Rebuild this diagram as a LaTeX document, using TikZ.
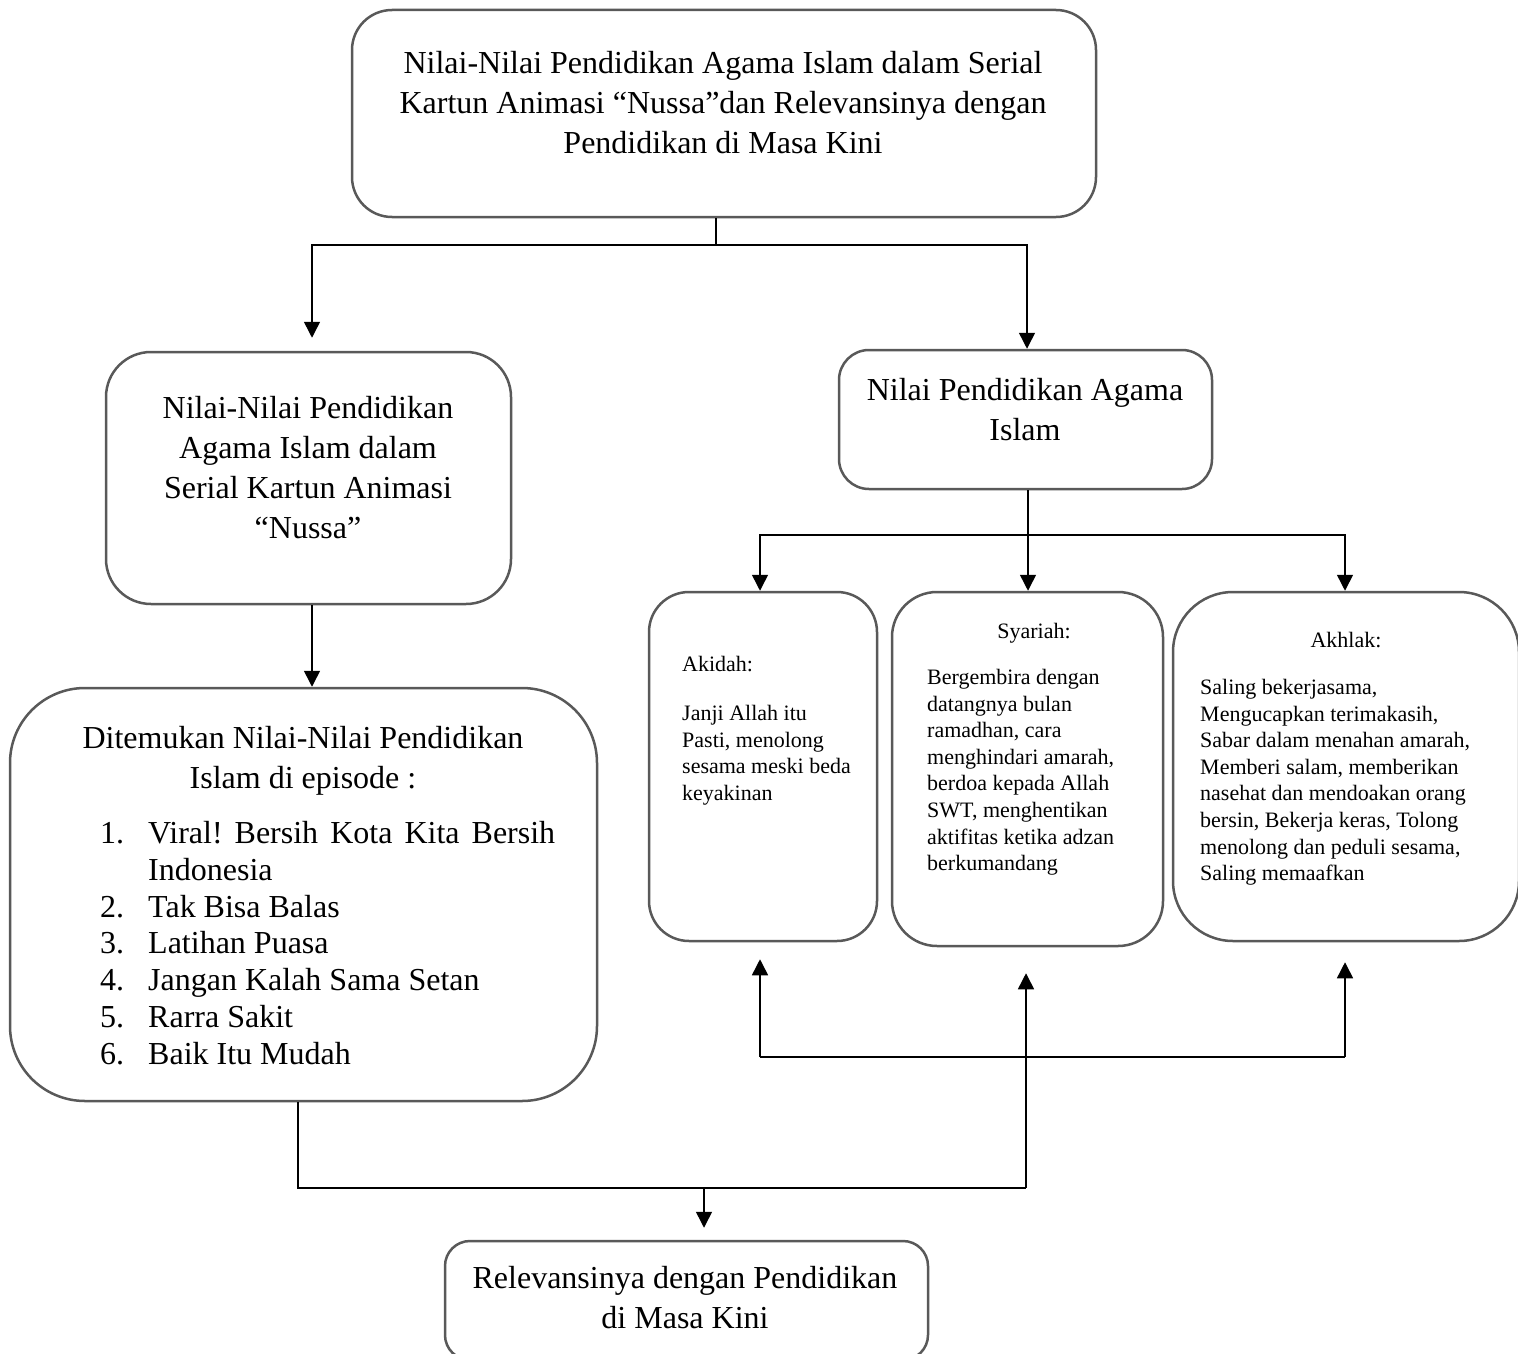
\documentclass[tikz,border=0pt]{standalone}
\usepackage{fontspec}
\setmainfont{Liberation Serif}
\frenchspacing
\usetikzlibrary{arrows.meta,positioning}
\definecolor{edgegray}{HTML}{595959}
\tikzset{
  box/.style={draw=edgegray, line width=2.5pt, rounded corners=#1, inner sep=0pt},
  box/.default=40pt,
  big/.style={font=\fontsize{32}{40}\selectfont, align=center, inner sep=0pt, anchor=north},
  small/.style={font=\fontsize{22}{26.6}\selectfont, align=left, inner sep=0pt, anchor=north west},
  link/.style={line width=1.5pt},
  arr/.style={link, -{Triangle[length=16pt,width=16pt]}},
}
\begin{document}
\begin{tikzpicture}[x=1pt,y=-1pt]
	\useasboundingbox (0,0) rectangle (1518,1354);
	\clip (0,0) rectangle (1518,1354);
	% frames
	\node[box, minimum width=744pt, minimum height=207pt] (judul) at (724,113.5) {};
	\node[box=45pt, minimum width=405pt, minimum height=252pt] (nussa) at (308.5,478) {};
	\node[box=30pt, minimum width=373pt, minimum height=139pt] (pai) at (1025.5,419.5) {};
	\node[box=75pt, minimum width=587pt, minimum height=413pt] (episode) at (303.5,894.5) {};
	\node[box, minimum width=228pt, minimum height=349pt] (akidah) at (763,766.5) {};
	\node[box=45pt, minimum width=271pt, minimum height=354pt] (syariah) at (1027.5,769) {};
	\node[box=60pt, minimum width=346pt, minimum height=349pt] (akhlak) at (1346,766.5) {};
	\node[box=25pt, minimum width=483pt, minimum height=119pt] (relevansi) at (686.5,1300.5) {};
	% texts
	\node[big] (judulT) at (723,51) {Nilai-Nilai Pendidikan Agama Islam dalam Serial\\
		Kartun Animasi “Nussa”dan Relevansinya dengan\\ Pendidikan di Masa Kini};
	\node[big] (nussaT) at (308,396) {Nilai-Nilai Pendidikan\\ Agama Islam dalam\\
		Serial Kartun Animasi\\ “Nussa”};
	\node[big] (paiT) at (1025,378) {Nilai Pendidikan Agama\\ Islam};
	\node[big] (episodeT) at (303,726) {Ditemukan Nilai-Nilai Pendidikan\\ Islam di episode :};
	\node[big, anchor=north west, align=left, font=\fontsize{32}{36.8}\selectfont] (daftar) at (100,821) {%
		\makebox[48pt][l]{1.}\makebox[407pt][s]{Viral! Bersih Kota Kita Bersih}\\
		\hspace*{48pt}Indonesia\\
		\makebox[48pt][l]{2.}Tak Bisa Balas\\
		\makebox[48pt][l]{3.}Latihan Puasa\\
		\makebox[48pt][l]{4.}Jangan Kalah Sama Setan\\
		\makebox[48pt][l]{5.}Rarra Sakit\\
		\makebox[48pt][l]{6.}Baik Itu Mudah};
	\node[big] (relevansiT) at (685,1266) {Relevansinya dengan Pendidikan\\ di Masa Kini};
	\node[small] (akidahT) at (682,656) {Akidah:\\[22.4pt] Janji Allah itu\\ Pasti, menolong\\
		sesama meski beda\\ keyakinan};
	\node[small, anchor=north] (syariahJ) at (1034,623) {Syariah:};
	\node[small] (syariahT) at (927,669) {Bergembira dengan\\ datangnya bulan\\ ramadhan, cara\\
		menghindari amarah,\\ berdoa kepada Allah\\ SWT, menghentikan\\ aktifitas ketika adzan\\ berkumandang};
	\node[small, anchor=north] (akhlakJ) at (1346,632) {Akhlak:};
	\node[small] (akhlakT) at (1200,679) {Saling bekerjasama,\\ Mengucapkan terimakasih,\\
		Sabar dalam menahan amarah,\\ Memberi salam, memberikan\\ nasehat dan mendoakan orang\\
		bersin, Bekerja keras, Tolong\\ menolong dan peduli sesama,\\ Saling memaafkan};
	% connectors
	\coordinate (j1) at (716,245);
	\coordinate (j2) at (1028,535);
	\coordinate (bl) at (760,1057);
	\coordinate (br) at (1345,1057);
	\coordinate (j4) at (1026,1188);
	\coordinate (j5) at (704,1188);
	\draw[link] (judul.south -| j1) -- (j1);
	\draw[arr, shorten >=13pt] (j1) -| ([xshift=3.5pt]nussa.north);
	\draw[arr] (j1) -| ([xshift=1.5pt]pai.north);
	\draw[arr] ([xshift=3.5pt]nussa.south) -- ([xshift=3.5pt]nussa.south |- episode.north);
	\draw[link] (pai.south -| j2) -- (j2);
	\draw[arr] (j2) -| ([xshift=-3pt]akidah.north);
	\draw[arr] (j2) -- (j2 |- syariah.north);
	\draw[arr] (j2) -| ([xshift=-1pt]akhlak.north);
	\draw[link] (bl) -- (br);
	\draw[arr, shorten >=17pt] (bl) -- (bl |- akidah.south);
	\draw[arr, shorten >=20pt] (br) -- (br |- akhlak.south);
	\draw[link] ([xshift=-5.5pt]episode.south) |- (j4);
	\draw[arr, shorten >=26pt] (j4) -- (j4 |- syariah.south);
	\draw[arr, shorten >=12pt] (j5) -- (j5 |- relevansi.north);
\end{tikzpicture}
\end{document}
